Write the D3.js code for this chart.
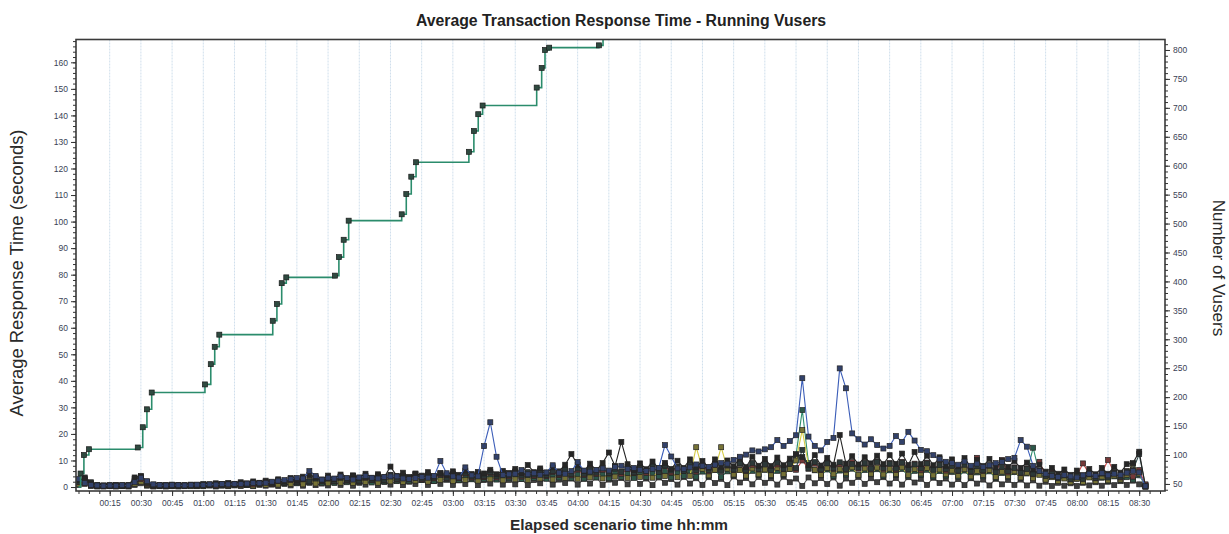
<!DOCTYPE html>
<html><head><meta charset="utf-8">
<script src="https://cdn.jsdelivr.net/npm/d3@7"></script>
<style>
body{margin:0;background:#fff;}
svg{display:block;font-family:"Liberation Sans",Arial,sans-serif;}
</style>
</head><body>
<svg id="c" width="1229" height="534"></svg>
<script>
// ---------- DATA ----------
// sampling grid of the transaction response times (minutes since scenario start)
const sampleMinutes = d3.range(0, 514, 3);

// x-axis tick labels every 15 minutes
const xTickLabels = ["00:15","00:30","00:45","01:00","01:15","01:30","01:45","02:00","02:15","02:30","02:45","03:00",
  "03:15","03:30","03:45","04:00","04:15","04:30","04:45","05:00","05:15","05:30","05:45","06:00",
  "06:15","06:30","06:45","07:00","07:15","07:30","07:45","08:00","08:15","08:30"];
const leftTicks = [0,10,20,30,40,50,60,70,80,90,100,110,120,130,140,150,160];
const rightTicks = [50,100,150,200,250,300,350,400,450,500,550,600,650,700,750,800];

// Running Vusers (right axis)
const vuserTimes  = [0,1,2.6,5,28.5,30.9,32.9,35.2,60.8,63.6,65.5,67.7,93.4,95.4,97.7,99.9,123.3,125.2,127.5,129.9,
  155.4,157.6,160,162.3,187.7,190.1,192.2,194.3,220.3,222.7,224.3,226.3,250.2,252.2,254.5,257];
const vuserCounts = [45,68,100,110,113,148,179,208,222,257,287,308,332,361,397,407,410,442,472,505,
  516,551,581,606,624,660,689,704,735,769,800,804,808,840,870,900];

// Average transaction response times (seconds), one array per transaction
const txLow = [
  0.8,1.6,0.4,0.2,0.2,0.3,0.2,0.3,0.2,0.8,
  1.4,0.5,0.2,0.3,0.2,0.3,0.2,0.3,0.4,0.3,
  0.3,0.6,0.2,0.5,0.3,0.7,0.4,0.8,0.3,0.9,
  0.5,1.2,0.4,1.4,0.6,1.6,0.5,1.8,0.7,1.3,
  0.6,1.8,0.8,2.1,0.5,1.6,0.9,2.3,0.7,1.9,
  0.9,2.4,0.7,2,1.1,2.6,0.8,2.2,1.2,2.8,
  0.8,2.5,1.1,3,0.7,2.6,1.3,3.2,0.9,2.7,
  1,3,0.7,2.6,1.4,3.4,0.9,2.8,1.5,3.2,
  0.9,3.1,1.3,3.6,0.8,2.8,1.6,3.4,1,3.7,
  1.2,3.2,0.7,3.6,1.6,3,0.9,3.8,1.3,3.3,
  0.8,3.7,1.5,3.1,0.7,4,1.7,3.4,1,3.8,
  1.6,3.3,0.9,3.9,1.8,3.2,0.4,3.6,1.4,3.4,
  1.1,3.6,0.5,3.2,1.6,3.8,1.2,3.3,1.8,3.7,
  1.3,3.4,0.9,3.7,1.7,3.1,0.8,3.5,1.5,3.2,
  0.9,3,0.7,3.3,1.3,2.8,0.6,3.1,1,2.7,
  0.8,2.8,0.6,2.5,0.5,2,0.4,1.6,0.5,1.4,
  0.4,1.6,0.6,1.8,0.5,2,0.7,2.2,0.8,2.4,
  1,0.1];
const txGreen = [
  1.4,2.8,1,0.5,0.4,0.5,0.4,0.5,0.6,2,
  2.6,1,0.4,0.5,0.6,0.5,0.4,0.5,0.6,0.5,
  0.6,0.9,0.5,1,0.7,0.6,1.1,0.7,1.2,0.9,
  1.3,0.9,1.8,1.2,2.2,1.4,2.6,1.6,2.9,1.7,
  2.6,1.5,3,1.8,3.3,2,2.8,1.7,3.4,2.1,
  3.2,2.2,3.8,2.4,3.5,2.6,4,2.3,3.7,2.8,
  4,2.6,4.4,2.9,3.8,3.1,4.6,2.8,4.2,3.3,
  4.8,3,4.3,3.4,5.2,3.1,4.7,3.6,5.4,3.3,
  4.6,3.2,5.5,3.6,4.9,3.3,5.8,3.8,5.1,3.4,
  5.6,3.7,5.2,4,6,3.6,5.5,4.2,6.2,3.9,
  5.8,4.1,6.4,3.8,5.9,4.4,6.6,4,6.1,4.5,
  6.5,4.2,6.1,4.6,6.8,12,29,9,6.3,4.4,
  6.6,4.1,6.2,4.7,6.9,4.3,6.4,4.8,6.7,4.2,
  6.3,4.5,6.8,4,6.1,4.6,6.5,3.9,6,4.3,
  5.7,3.8,6.2,3.6,5.5,4,5.9,3.4,5.3,3.7,
  5.6,3.5,5.1,14.8,5,3.2,4.2,2.4,3.6,2.2,
  3.4,2.1,3.8,2.4,3.5,2.2,4,2.6,3.7,2.8,
  4.4,0.5];
const txYellow = [
  1,2,0.8,0.3,0.3,0.4,0.3,0.4,0.3,1.2,
  2,0.8,0.3,0.4,0.3,0.4,0.5,0.4,0.3,0.5,
  0.4,0.7,0.5,0.9,0.4,0.8,0.6,1,0.5,1.1,
  0.8,1.6,0.9,1.9,1.1,2.3,1,2.6,1.3,2.2,
  1.4,2.7,1.6,3,1.5,2.6,1.9,3.2,1.6,2.9,
  2.1,3.4,1.9,3.1,2.4,3.6,2,3.3,2.6,3.8,
  2.2,3.6,2.7,4.1,2.4,3.8,2.9,4.3,2.5,4,
  2.9,4.4,2.6,4.1,3.2,4.7,2.8,4.5,3.4,4.9,
  3.1,5,3.6,5.4,3.2,4.8,3.9,5.6,3.4,5.2,
  3.8,5.7,3.5,6,4.1,5.4,3.7,6.2,4.2,15,
  6.8,4.4,6.5,15,6.9,4.7,6.4,4.3,7,4.8,
  6.6,4.5,7.2,4.9,6.8,10,21.5,8,6.5,4.6,
  7.1,4.8,6.7,5.2,7.4,4.6,7,5,7.3,4.7,
  6.9,4.9,7.4,4.5,6.8,5.1,7.2,4.4,6.6,4.8,
  6.2,4.3,6.7,4,6,4.5,6.4,3.8,5.8,4.1,
  5.9,3.6,5.4,3.3,4.6,2.8,3.7,2.2,3.2,1.8,
  3,1.9,3.6,2.2,3.9,2.5,4.3,2.8,4.6,8.7,
  5,0.8];
const txRed = [
  1.8,1.2,0.6,0.4,0.5,0.4,0.5,0.6,0.4,2.4,
  3,1.2,0.5,0.6,0.5,0.6,0.5,0.6,0.7,0.6,
  0.7,1,0.6,1.1,0.8,1.2,0.9,1.3,1,1.5,
  1.8,1.1,2.3,1.5,2.7,1.8,3.1,2,3.6,2.3,
  3.2,2.1,3.7,2.4,4,2.2,3.5,2.7,4.2,2.5,
  4.4,2.8,4,3.1,4.6,2.9,4.2,3.3,4.8,3.1,
  4.6,3.3,5.1,3.5,4.8,3.8,5.4,3.6,5.2,4,
  5.6,3.9,5.3,4.3,6,4.1,5.7,4.6,6.3,4.4,
  6.6,4.6,7,4.9,6.5,5.2,7.4,5,6.9,5.4,
  7.6,5.3,7.2,5.7,7.9,5.5,7.5,6,8.2,5.8,
  8,5.9,8.5,6.2,8.1,6.4,8.8,6.1,8.4,6.6,
  8.9,6.3,8.5,6.7,9.2,6.5,10,6.9,8.8,6.4,
  9.1,6.8,8.7,6.5,9.4,6.9,8.9,6.6,9.6,6.7,
  9,6.4,9.5,6.8,8.8,6.3,9.2,6.6,8.6,6.2,
  8.3,6,8.7,5.7,11,6.1,8.1,5.8,10.2,5.5,
  7.4,5.2,7,4.8,9.5,4.4,5.6,3.4,4.8,3,
  4.4,8.9,4.9,3.3,5.2,10.2,5.5,3.6,6,3.9,
  6.4,1];
const txSlate = [
  2,3.6,1.8,0.5,0.4,0.5,0.6,0.4,0.5,3,
  3.8,1.5,0.6,0.5,0.4,0.6,0.5,0.4,0.6,0.7,
  0.9,0.6,1.1,0.8,1.3,0.9,1.4,1,1.6,1.2,
  2,1.4,2.5,1.6,2.9,1.8,3.3,2.1,3.6,2.4,
  3.4,2.2,3.8,2.6,4.1,2.4,3.7,2.8,4.3,2.6,
  4.6,3,4.2,3.4,4.9,3.2,4.5,3.6,5.1,3.4,
  5,3.6,5.4,3.9,5.1,4.2,5.7,4,5.5,4.4,
  5.9,4.3,5.6,4.7,6.3,4.5,6,5,6.6,4.8,
  7,5,6.6,5.4,7.3,5.2,6.9,5.7,7.5,5.5,
  7.2,5.9,7.8,5.6,8.1,6.2,7.6,6,8.4,6.3,
  8.2,6.4,8.7,6.1,8.3,6.6,8.9,6.3,9.1,6.8,
  8.6,6.5,9.2,6.9,8.8,7.2,14,7,9.4,6.7,
  8.9,7.1,9.3,6.8,8.7,7.3,9,6.9,9.5,7.2,
  8.8,6.9,9.2,6.6,8.5,7,8.9,6.5,8.3,6.8,
  8,6.2,8.4,5.9,7.8,6.3,8.1,5.7,7.6,6,
  7.2,5.4,6.8,5,6.2,4.2,5,3.3,4.4,2.9,
  4.2,3,4.8,3.4,5.1,3.6,5.4,3.9,5.8,6.4,
  12.4,0.3];
const txBlack = [
  2.6,3.2,1.4,0.8,0.6,0.7,0.8,0.6,0.7,3.6,
  4.2,2,0.9,0.8,0.7,0.9,0.8,0.7,0.9,0.8,
  1.1,0.8,1.4,1,1.5,1.1,1.8,1.3,2.1,1.6,
  2.4,1.7,2.9,2.1,3.4,2.4,3.9,4.6,3.6,2.8,
  4.3,3,4.7,3.2,4.4,3.5,5,3.3,4.8,3.7,
  7.7,4.2,5.4,3.8,5.1,4.3,5.6,4,5.3,4.5,
  5.9,4.6,6.2,4.9,5.7,5.1,6.5,4.8,6.1,5.3,
  6.8,5.2,8.3,5.6,7,5.4,7.4,5.9,8.4,12.4,
  8.4,6,8.8,6.3,9,13,7.9,17,8.6,6.4,
  8.9,6.7,9.6,7,9.1,6.8,9.9,7.2,10.4,7.4,
  9.8,7.3,10.4,7.6,10,7.8,10.8,7.5,11.4,8,
  10.6,7.9,11.1,8.2,10.7,12.4,11.3,8.3,12,8.1,
  11,8.4,19.6,8.8,11.6,8.5,11.2,8.9,11.8,8.6,
  12,8.7,12.6,8.3,13.2,8.6,11.8,8.2,11.2,8,
  10.4,7.8,10.9,7.5,10.2,7.9,10.6,7.4,9.8,7.6,
  9.8,7.2,9.2,6.6,8.4,5.8,7.2,5,6.6,4.6,
  6.2,4.4,6.8,4.8,7.2,5,7.6,5.4,8.6,9,
  13.3,0.2];
const txBlue = [
  3,1.5,0.8,0.6,0.5,0.6,0.5,0.7,0.6,1.8,
  3.5,2.2,1,0.7,0.6,0.8,0.7,0.6,0.8,0.9,
  0.8,1,0.9,1.1,1,1.2,1.1,1.3,1.5,1.4,
  1.6,2,2.4,2.6,3,3.4,3.2,6,4.2,2.8,
  3.5,3.2,4,3.4,2.8,3.6,4.2,3.5,3.2,3.8,
  4,4,3.2,3,3.4,3.8,3.5,4.2,9.8,5.2,
  4,3.6,7.4,4.4,4,15.4,24.4,11.4,4.6,4.8,
  5,6.4,4.8,5.2,4.6,5.5,8.2,5.4,5,6,
  9.4,6.2,5.8,6.4,7,6.2,7.5,8,6.8,7.2,
  6.5,6,6.8,7.2,15.8,11.5,7,6.8,7.4,8.5,
  8,7.6,8.4,9,8.8,10.2,11.4,12.2,13.8,13.4,
  14.2,15,17.7,15.5,17.3,19.5,41,19,15.5,13.8,
  17,18.5,44.7,37.2,20.2,18,16,18,15.8,14.5,
  15.5,19.2,17,20.8,17.5,14,13.5,12,10.5,9.5,
  9,8.4,9.6,8,8.8,7.6,8.2,9,9.4,10.5,
  11,17.7,15.2,8,6,5,4.2,3.8,4.5,4,
  3.6,4.4,5,4.2,5.2,4.4,5,4.6,5.4,6,
  5.5,0.3];

const seriesList = [
  {name:"txLow",    values:txLow,    color:"#5a5a5a"},
  {name:"txGreen",  values:txGreen,  color:"#2f8f6f"},
  {name:"txYellow", values:txYellow, color:"#d6cc45"},
  {name:"txRed",    values:txRed,    color:"#d04a4a"},
  {name:"txSlate",  values:txSlate,  color:"#2f4a4a"},
  {name:"txBlack",  values:txBlack,  color:"#222222"},
  {name:"txBlue",   values:txBlue,   color:"#3b5db8"}
];

(function(){
// ---------- LAYOUT ----------
const svg = d3.select("#c");
const pL = 76, pR = 1165, pT = 39.5, pB = 491;
const x  = d3.scaleLinear().domain([-1.2, 522.4]).range([pL, pR]);
const yL = d3.scaleLinear().domain([-1.5, 168.6]).range([pB, pT]);
const yR = d3.scaleLinear().domain([37.8, 818.1]).range([pB, pT]);

const toMin = s => { const [h,m] = s.split(":").map(Number); return h*60+m; };
const xTickVals = xTickLabels.map(toMin);

svg.append("defs").append("clipPath").attr("id","clip")
  .append("rect").attr("x",pL).attr("y",pT).attr("width",pR-pL).attr("height",pB-pT);

// gridlines
svg.append("g").selectAll("line").data(xTickVals).join("line")
  .attr("x1",d=>x(d)).attr("x2",d=>x(d)).attr("y1",pT).attr("y2",pB)
  .attr("stroke","#cfdfec").attr("stroke-width",1).attr("stroke-dasharray","2,1");

const plot = svg.append("g").attr("clip-path","url(#clip)");

// response-time series
const lineL = d3.line().x((d,i)=>x(sampleMinutes[i])).y(d=>yL(d));
seriesList.forEach(s => {
  const g = plot.append("g");
  g.append("path").datum(s.values).attr("d",lineL)
    .attr("fill","none").attr("stroke",s.color).attr("stroke-width",1.1);
  const mk = d3.interpolateRgb(s.color,"#2a2a2a")(0.55);
  g.selectAll("rect").data(s.values).join("rect")
    .attr("x",(d,i)=>x(sampleMinutes[i])-2.5).attr("y",d=>yL(d)-2.5)
    .attr("width",5).attr("height",5)
    .attr("fill",mk).attr("stroke","#242424").attr("stroke-width",0.7);
});

// running vusers (step)
const vPts = vuserTimes.map((t,i)=>[t,vuserCounts[i]]);
plot.append("path").datum(vPts)
  .attr("d",d3.line().curve(d3.curveStepAfter).x(d=>x(d[0])).y(d=>yR(d[1])))
  .attr("fill","none").attr("stroke","#2b8c6c").attr("stroke-width",1.6);
plot.append("g").selectAll("rect").data(vPts.slice(1)).join("rect")
  .attr("x",d=>x(d[0])-2.5).attr("y",d=>yR(d[1])-2.5).attr("width",5).attr("height",5)
  .attr("fill","#2f4a40").attr("stroke","#1a1a1a").attr("stroke-width",0.7);

// frame
svg.append("rect").attr("x",pL).attr("y",pT).attr("width",pR-pL).attr("height",pB-pT)
  .attr("fill","none").attr("stroke","#3a3a3a").attr("stroke-width",1.6);

// axes
function styleAxis(g){
  g.select(".domain").remove();
  g.selectAll("line").attr("stroke","#333");
  g.selectAll("text").attr("fill","#3a3f55").style("font-size","8.5px").style("font-family","'Liberation Sans',Arial,sans-serif");
}
svg.append("g").attr("transform",`translate(${pL},0)`)
  .call(d3.axisLeft(yL).tickValues(d3.range(0,169,2)).tickSize(3).tickFormat("")).call(styleAxis);
svg.append("g").attr("transform",`translate(${pL},0)`)
  .call(d3.axisLeft(yL).tickValues(leftTicks).tickSize(5).tickPadding(3)).call(styleAxis);

svg.append("g").attr("transform",`translate(${pR},0)`)
  .call(d3.axisRight(yR).tickValues(d3.range(40,819,10)).tickSize(3).tickFormat("")).call(styleAxis);
svg.append("g").attr("transform",`translate(${pR},0)`)
  .call(d3.axisRight(yR).tickValues(rightTicks).tickSize(5).tickPadding(3)).call(styleAxis);

svg.append("g").attr("transform",`translate(0,${pB})`)
  .call(d3.axisBottom(x).tickValues(d3.range(0,521,5)).tickSize(3).tickFormat("")).call(styleAxis);
svg.append("g").attr("transform",`translate(0,${pB})`)
  .call(d3.axisBottom(x).tickValues(xTickVals).tickSize(5).tickPadding(4)
    .tickFormat((d,i)=>xTickLabels[i])).call(styleAxis);

// titles
svg.append("text").attr("x",621).attr("y",26).attr("text-anchor","middle")
  .style("font-size","15.8px").style("font-weight","bold").attr("fill","#222")
  .text("Average Transaction Response Time - Running Vusers");
svg.append("text").attr("x",619).attr("y",530).attr("text-anchor","middle")
  .style("font-size","15.4px").style("font-weight","bold").attr("fill","#2a2a2a")
  .text("Elapsed scenario time hh:mm");
svg.append("text").attr("transform","translate(23,273) rotate(-90)").attr("text-anchor","middle")
  .style("font-size","18.4px").attr("fill","#2a2a2a")
  .text("Average Response Time (seconds)");
svg.append("text").attr("transform","translate(1213,268) rotate(90)").attr("text-anchor","middle")
  .style("font-size","17px").attr("fill","#2a2a2a")
  .text("Number of Vusers");
})();
</script>
</body></html>
